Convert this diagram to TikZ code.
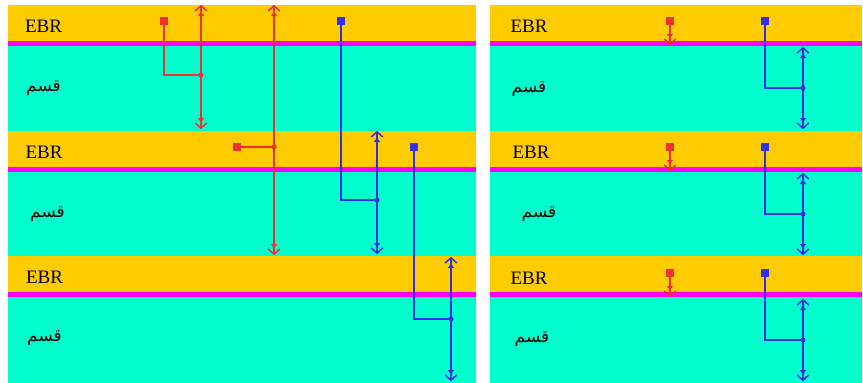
\documentclass[tikz,border=0pt]{standalone}
\usepackage{fontspec}
\setmainfont{Liberation Serif}
\newfontfamily\arabicfont[Script=Arabic]{DejaVu Sans}
\TeXXeTstate=1
\usetikzlibrary{arrows.meta}
\definecolor{bandY}{HTML}{FFCC00}
\definecolor{bandM}{HTML}{FF00FF}
\definecolor{bandC}{HTML}{00FFCC}
\definecolor{lnR}{HTML}{EE3030}
\definecolor{lnB}{HTML}{3030E8}
\tikzset{
  mytip/.tip={Triangle[length=4.5pt,width=6pt]Straight Barb[length=5pt,width=11pt,line width=1.5pt,round]},
  sq/.style={draw,line width=1.2pt,fill=white!88!#1,minimum size=6.5pt,inner sep=0pt,shape=rectangle},
  ln/.style={line width=2pt},
  dbl/.style={ln,{mytip}-{mytip}},
  one/.style={ln,-{mytip}},
  jdot/.style={circle,fill,inner sep=0pt,minimum size=5pt},
  ebr/.style={font=\fontsize{19}{22}\selectfont,inner sep=0pt},
  ar/.style={font=\arabicfont\fontsize{17}{20}\selectfont,inner sep=0pt},
}
\begin{document}
\begin{tikzpicture}[x=1pt,y=-1pt]
\useasboundingbox (0,0) rectangle (863,383);
\fill[white] (0,0) rectangle (863,383);
% bands
\foreach \xa/\xb in {8/476,490/862}{
  \foreach \t/\n in {5/130.5,130.5/256,256/383}{
    \fill[bandY] (\xa,\t) rectangle (\xb,\t+36);
    \fill[bandM] (\xa,\t+36) rectangle (\xb,\t+41);
    \fill[bandC] (\xa,\t+41) rectangle (\xb,\n);
  }
}
% labels
\node[ebr] (e1) at (43.5,26) {EBR};
\node[ebr] (e2) at (44,152) {EBR};
\node[ebr] (e3) at (44.5,277) {EBR};
\node[ebr] (e4) at (529,26) {EBR};
\node[ebr] (e5) at (531,152) {EBR};
\node[ebr] (e6) at (529,278) {EBR};
\node[ar] (q1) at (43.5,88) {\beginR قسم\endR};
\node[ar] (q2) at (47.5,214) {\beginR قسم\endR};
\node[ar] (q3) at (44.5,338) {\beginR قسم\endR};
\node[ar] (q4) at (529,89) {\beginR قسم\endR};
\node[ar] (q5) at (539,214) {\beginR قسم\endR};
\node[ar] (q6) at (532,339) {\beginR قسم\endR};
% left panel, red
\coordinate (rAt) at (201,5);
\coordinate (rAb) at (201,129);
\coordinate (rAj) at (201,75);
\draw[lnR,dbl] (rAt) -- (rAb);
\node[sq=lnR,lnR] (rAs) at (164,21) {};
\draw[lnR,ln] (rAs) |- (rAj);
\node[jdot,lnR] at (rAj) {};
\coordinate (rBt) at (274,5);
\coordinate (rBb) at (274,255);
\coordinate (rBj) at (274,147);
\draw[lnR,dbl] (rBt) -- (rBb);
\node[sq=lnR,lnR] (rBs) at (237,147) {};
\draw[lnR,ln] (rBs) -- (rBj);
\node[jdot,lnR] at (rBj) {};
% left panel, blue
\coordinate (bAt) at (377,131);
\coordinate (bAb) at (377,254);
\coordinate (bAj) at (377,200);
\draw[lnB,dbl] (bAt) -- (bAb);
\node[sq=lnB,lnB] (bAs) at (341,21) {};
\draw[lnB,ln] (bAs) |- (bAj);
\node[jdot,lnB] at (bAj) {};
\coordinate (bBt) at (451,257);
\coordinate (bBb) at (451,381);
\coordinate (bBj) at (451,319);
\draw[lnB,dbl] (bBt) -- (bBb);
\node[sq=lnB,lnB] (bBs) at (414,147) {};
\draw[lnB,ln] (bBs) |- (bBj);
\node[jdot,lnB] at (bBj) {};
% right panel
\foreach \o/\k in {0/1,126/2,252/3}{
  \node[sq=lnR,lnR] (rs\k) at (670,21+\o) {};
  \coordinate (re\k) at (670,45+\o);
  \draw[lnR,one] (rs\k) -- (re\k);
  \coordinate (vt\k) at (803,47+\o);
  \coordinate (vb\k) at (803,129+\o);
  \coordinate (vj\k) at (803,88+\o);
  \draw[lnB,dbl] (vt\k) -- (vb\k);
  \node[sq=lnB,lnB] (bs\k) at (765,21+\o) {};
  \draw[lnB,ln] (bs\k) |- (vj\k);
  \node[jdot,lnB] at (vj\k) {};
}
\end{tikzpicture}
\end{document}
